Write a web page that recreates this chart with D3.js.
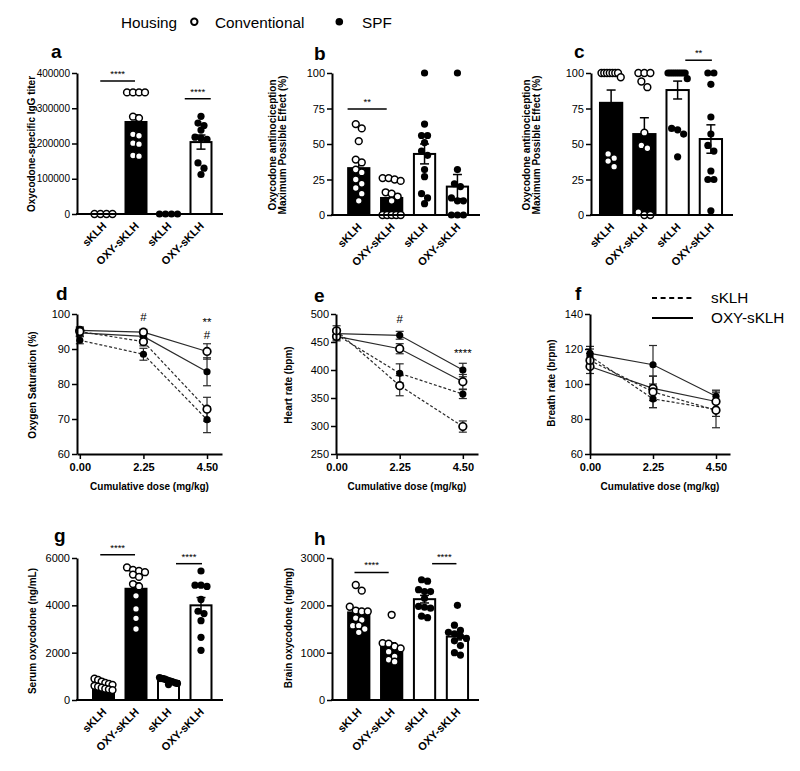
<!DOCTYPE html>
<html><head><meta charset="utf-8">
<script src="https://cdn.jsdelivr.net/npm/d3@7"></script>
<style>
body{margin:0;background:#fff;}
text{font-family:Arial,"Liberation Sans",sans-serif;fill:#000;}
</style></head><body>
<svg id="fig" width="800" height="771"></svg>
<script>
// ---------- DATA ----------
const categories = ["sKLH","OXY-sKLH","sKLH","OXY-sKLH"];
const housing = ["Conventional","Conventional","SPF","SPF"];

// a: Oxycodone-specific IgG titer
const aMeans = [0, 261000, 0, 204000];
const aSEM = [0, 20000, 0, 20000];
const aPoints = [
  [0,0,0,0],
  [345000,345000,345000,345000,276000,272000,226000,222000,201000,198000,166000,164000],
  [0,0,0,0],
  [277000,258000,251000,238000,218000,215000,212000,145000,130000,112000]
];
// b: antinociception MPE (%)
const bMeans = [33, 12, 43, 20];
const bSEM = [5.5, 3, 7, 8.5];
const bPoints = [
  [64,61,52,39,37,32,30,25,22,19,15,10],
  [26,26,25,24,16,15,13,10,0,0,0,0,0],
  [100,64,56,56,51,45,42,32,27,15,12,8],
  [100,32,22,20,12,10,10,0,0,0]
];
// c: antinociception MPE (%)
const cMeans = [79, 57, 88, 53.5];
const cSEM = [9, 11.5, 6.3, 10];
const cPoints = [
  [100,100,100,100,100,100,100,97,43,40,38,34],
  [100,100,100,94,90,58,49,47,2,0,0],
  [100,100,100,100,100,100,100,100,100,96,61,60,57,41],
  [100,100,92,69,57,49,45,31,25,25,3]
];
// g: serum oxycodone (ng/mL)
const gMeans = [600, 4700, 800, 4000];
const gSEM = [50, 250, 30, 330];
const gPoints = [
  [900,850,780,720,680,640,600,560,520,480,450,420],
  [5600,5500,5450,5400,5300,5200,4900,4800,4400,3850,3450,3000],
  [950,920,900,880,850,820,800,780,750,720,700,650],
  [5450,4850,4850,4800,4250,3750,3650,3350,2650,2100]
];
// h: brain oxycodone (ng/mg)
const hMeans = [1850, 1120, 2130, 1340];
const hSEM = [80, 90, 80, 70];
const hPoints = [
  [2430,2310,1970,1890,1870,1870,1730,1690,1570,1570,1500,1430],
  [1800,1200,1190,1130,1090,1020,920,850,810],
  [2540,2510,2330,2290,2290,2150,1980,1960,1940,1770,1740],
  [2000,1580,1470,1430,1400,1350,1300,1250,1150,1000,950]
];

// line panels
const doses = [0, 2.25, 4.5];
const doseTicks = [0, 2.25, 4.5];
const lineHousing = ["SPF","Conventional","SPF","Conventional"];
const lineVaccine = ["OXY-sKLH","OXY-sKLH","sKLH","sKLH"];
// d: oxygen saturation (%)
const dMeans = [[94.6,93.6,83.5],[95.3,94.8,89.3],[92.5,88.5,69.8],[95.0,92.1,72.8]];
const dSEM   = [[1.0,1.0,4.0],[1.0,0.8,2.2],[1.0,1.7,3.7],[1.2,1.2,3.4]];
// e: heart rate (bpm)
const eMeans = [[465,462,400],[460,438,379],[463,394,357],[470,372,299]];
const eSEM   = [[8,7,12],[8,9,13],[9,17,8],[9,18,10]];
// f: breath rate (brpm)
const fMeans = [[117.5,111,93],[110,97.5,90],[116,91.5,85.5],[113.5,95.5,85]];
const fSEM   = [[4,11,3.5],[4,7,6],[4,5,4],[4,9,10]];

// tick values
const aTicks = [0,100000,200000,300000,400000];
const bcTicks = [0,25,50,75,100];
const gTicks = [0,2000,4000,6000];
const hTicks = [0,1000,2000,3000];
const dTicks = [60,70,80,90,100];
const eTicks = [250,300,350,400,450,500];
const fTicks = [60,80,100,120,140];

// significance brackets (category-space positions, data-space height)
const aSig = [{from:-0.1,to:0.97,y:377000,t:"****"},{from:2.5,to:3.3,y:327000,t:"****"}];
const bSig = [{from:-0.34,to:0.85,y:74.6,t:"**"}];
const cSig = [{from:2.23,to:3.03,y:109,t:"**"}];
const gSig = [{from:-0.1,to:0.97,y:6140,t:"****"},{from:2.23,to:3.03,y:5760,t:"****"}];
const hSig = [{from:-0.13,to:0.91,y:2695,t:"****"},{from:2.23,to:2.97,y:2880,t:"****"}];
const dAnn = [{x:2.25,y:98,t:"#"},{x:4.5,y:96.6,t:"**"},{x:4.5,y:92.9,t:"#"}];
const eAnn = [{x:2.25,y:483.5,t:"#"},{x:4.5,y:423,t:"****"}];

// ---------- DRAWING ----------
const svg = d3.select("#fig");

function styleYAxis(ax, fs){
  ax.select(".domain").attr("stroke","#000").attr("stroke-width",2);
  ax.selectAll(".tick line").attr("stroke","#000").attr("stroke-width",1.5);
  ax.selectAll(".tick text").attr("font-size",fs).attr("font-family","Arial, 'Liberation Sans', sans-serif").attr("fill","#000");
}

function swarm(vals, y, sep, maxW){
  const idx = vals.map((v,i)=>i).sort((a,b)=>vals[b]-vals[a]);
  const off = new Array(vals.length).fill(0);
  const rows = []; let cur = null;
  idx.forEach(i=>{
    const py = y(vals[i]);
    if (cur && Math.abs(py-cur.y0) < 6.5) cur.items.push(i);
    else { cur = {y0:py, items:[i]}; rows.push(cur); }
  });
  rows.forEach(r=>{
    const n = r.items.length;
    const s = n>1 ? Math.min(sep, maxW/(n-1)) : 0;
    r.items.forEach((i,k)=>{ off[i] = (k-(n-1)/2)*s; });
  });
  return off;
}

function panelLabel(t, x, y){
  svg.append("text").attr("x",x).attr("y",y).attr("font-size",19).attr("font-weight","bold").text(t);
}

function yTitle(lines, xs, cy, fs){
  lines.forEach((ln,i)=>{
    svg.append("text").attr("transform",`translate(${xs[i]},${cy}) rotate(-90)`)
      .attr("text-anchor","middle").attr("dy","0.35em").attr("font-size",fs).attr("font-weight","bold").text(ln);
  });
}

function drawBarPanel(L, D){
  const g = svg.append("g");
  const y = d3.scaleLinear().domain(D.domain).range([L.yBot, L.yTop]);
  const x = d3.scaleBand().domain(d3.range(categories.length)).range(L.band).padding(L.pad);
  const bw = x.bandwidth();
  const cx = i => x(i) + bw/2;

  g.selectAll("rect.bar").data(D.means).join("rect").attr("class","bar")
    .attr("x",(d,i)=>x(i)).attr("width",bw)
    .attr("y",d=>y(d)).attr("height",d=>L.yBot-y(d))
    .attr("fill",(d,i)=>housing[i]==="Conventional"?"#000":"#fff")
    .attr("stroke","#000").attr("stroke-width",2);

  D.means.forEach((m,i)=>{
    const s = D.sem[i]; if(!s) return;
    const eg = g.append("g").attr("stroke","#000").attr("stroke-width",1.5);
    eg.append("line").attr("x1",cx(i)).attr("x2",cx(i)).attr("y1",y(m-s)).attr("y2",y(m+s));
    [m-s,m+s].forEach(v=>eg.append("line").attr("x1",cx(i)-4.5).attr("x2",cx(i)+4.5).attr("y1",y(v)).attr("y2",y(v)));
  });

  D.points.forEach((vals,i)=>{
    const off = swarm(vals, y, 6, bw-3);
    const conv = housing[i]==="Conventional";
    g.append("g").selectAll("circle").data(vals).join("circle")
      .attr("cx",(v,k)=>cx(i)+off[k]).attr("cy",v=>y(v))
      .attr("r",conv?3.4:3.6)
      .attr("fill",conv?"#fff":"#000")
      .attr("stroke",conv?"#000":"none").attr("stroke-width",1.5);
  });

  const ax = g.append("g").attr("transform",`translate(${L.x0},0)`)
    .call(d3.axisLeft(y).tickValues(D.ticks).tickFormat(d3.format("d")).tickSize(5).tickSizeOuter(0).tickPadding(2));
  styleYAxis(ax, L.tfs);
  g.append("line").attr("x1",L.x0-1).attr("x2",L.x1).attr("y1",L.yBot).attr("y2",L.yBot).attr("stroke","#000").attr("stroke-width",2);

  g.selectAll("text.xl").data(categories).join("text").attr("class","xl")
    .attr("transform",(d,i)=>`translate(${cx(i)+1},${L.yBot+10}) rotate(-45)`)
    .attr("text-anchor","end").attr("dy","0.35em").attr("font-size",11).attr("font-weight","bold").text(d=>d);

  const step = x.step();
  D.sig.forEach(s=>{
    const x1 = cx(0)+s.from*step, x2 = cx(0)+s.to*step;
    g.append("line").attr("x1",x1).attr("x2",x2).attr("y1",y(s.y)).attr("y2",y(s.y)).attr("stroke","#000").attr("stroke-width",1.5);
    g.append("text").attr("x",(x1+x2)/2).attr("y",y(s.y)-4).attr("text-anchor","middle").attr("font-size",9.5).text(s.t);
  });

  panelLabel(L.label, L.lx, L.ly);
  yTitle(L.title, L.titleX, L.titleY, 10);
}

function drawLinePanel(L, D){
  const g = svg.append("g");
  const x = d3.scaleLinear().domain(L.xDomain).range([L.x0, L.x1]);
  const y = d3.scaleLinear().domain(D.domain).range([L.yBot, L.yTop]);
  const col = "#2a2a2a";
  const line = d3.line().x((d,i)=>x(doses[i])).y(d=>y(d));
  D.means.forEach((ser,si)=>{
    g.append("path").datum(ser).attr("d",line).attr("fill","none").attr("stroke",col)
      .attr("stroke-width",1.2).attr("stroke-dasharray",lineVaccine[si]==="sKLH"?"3,2":null);
  });
  D.means.forEach((ser,si)=>{
    ser.forEach((m,k)=>{
      const s = D.sem[si][k], px = x(doses[k]);
      const eg = g.append("g").attr("stroke",col).attr("stroke-width",1.2);
      eg.append("line").attr("x1",px).attr("x2",px).attr("y1",y(m-s)).attr("y2",y(m+s));
      [m-s,m+s].forEach(v=>eg.append("line").attr("x1",px-4).attr("x2",px+4).attr("y1",y(v)).attr("y2",y(v)));
    });
  });
  const order = d3.range(D.means.length).sort((a,b)=>(lineHousing[a]==="SPF"?0:1)-(lineHousing[b]==="SPF"?0:1));
  order.forEach(si=>{
    const conv = lineHousing[si]==="Conventional";
    g.append("g").selectAll("circle").data(D.means[si]).join("circle")
      .attr("cx",(d,k)=>x(doses[k])).attr("cy",d=>y(d))
      .attr("r",conv?3.8:3.6).attr("fill",conv?"#fff":"#000")
      .attr("stroke",conv?"#000":"none").attr("stroke-width",1.7);
  });

  const ax = g.append("g").attr("transform",`translate(${L.x0},0)`)
    .call(d3.axisLeft(y).tickValues(D.ticks).tickFormat(d3.format("d")).tickSize(5).tickSizeOuter(0).tickPadding(2));
  styleYAxis(ax, 11);
  const bx = g.append("g").attr("transform",`translate(0,${L.yBot})`)
    .call(d3.axisBottom(x).tickValues(doseTicks).tickFormat(d3.format(".2f")).tickSize(5).tickSizeOuter(0).tickPadding(4));
  bx.select(".domain").attr("stroke","#000").attr("stroke-width",2);
  bx.selectAll(".tick line").attr("stroke","#000").attr("stroke-width",1.5);
  bx.selectAll(".tick text").attr("font-size",11).attr("font-weight","bold").attr("font-family","Arial, 'Liberation Sans', sans-serif").attr("fill","#000");

  g.append("text").attr("x",(L.x0+L.x1)/2).attr("y",L.yBot+36).attr("text-anchor","middle")
    .attr("font-size",10).attr("font-weight","bold").text("Cumulative dose (mg/kg)");

  D.ann.forEach(a=>{
    g.append("text").attr("x",x(a.x)).attr("y",y(a.y)).attr("text-anchor","middle").attr("font-size",11.5).text(a.t);
  });

  panelLabel(L.label, L.lx, L.ly);
  yTitle([L.title], [L.titleX], L.titleY, 10);
}

// ---------- LAYOUT ----------
drawBarPanel({x0:77,x1:223,yTop:73,yBot:214,band:[81.5,223],pad:0.354,tfs:10,label:"a",lx:51,ly:58,
  title:["Oxycodone-specific IgG titer"],titleX:[31],titleY:144},
  {domain:[0,400000],ticks:aTicks,means:aMeans,sem:aSEM,points:aPoints,sig:aSig});
drawBarPanel({x0:332,x1:480,yTop:73,yBot:215,band:[336.5,479.7],pad:0.354,tfs:11,label:"b",lx:314,ly:60,
  title:["Oxycodone antinociception","Maximum Possible Effect (%)"],titleX:[272,282.5],titleY:145},
  {domain:[0,100],ticks:bcTicks,means:bMeans,sem:bSEM,points:bPoints,sig:bSig});
drawBarPanel({x0:591,x1:733,yTop:73,yBot:215,band:[589,733],pad:0.33,tfs:11,label:"c",lx:574,ly:58,
  title:["Oxycodone antinociception","Maximum Possible Effect (%)"],titleX:[526,536.5],titleY:145},
  {domain:[0,100],ticks:bcTicks,means:cMeans,sem:cSEM,points:cPoints,sig:cSig});
drawBarPanel({x0:77,x1:223,yTop:558,yBot:700,band:[81.5,223],pad:0.354,tfs:11,label:"g",lx:54,ly:542,
  title:["Serum oxycodone (ng/mL)"],titleX:[32],titleY:631},
  {domain:[0,6000],ticks:gTicks,means:gMeans,sem:gSEM,points:gPoints,sig:gSig});
drawBarPanel({x0:332,x1:479,yTop:558,yBot:700,band:[336.5,479.7],pad:0.354,tfs:11,label:"h",lx:314,ly:545,
  title:["Brain oxycodone (ng/mg)"],titleX:[288],titleY:628},
  {domain:[0,3000],ticks:hTicks,means:hMeans,sem:hSEM,points:hPoints,sig:hSig});

drawLinePanel({x0:77,x1:222,yTop:314,yBot:454,xDomain:[-0.1,5.03],label:"d",lx:56,ly:300,
  title:"Oxygen Saturation (%)",titleX:32,titleY:385},
  {domain:[60,100],ticks:dTicks,means:dMeans,sem:dSEM,ann:dAnn});
drawLinePanel({x0:336,x1:478,yTop:314,yBot:454,xDomain:[-0.02,5.04],label:"e",lx:314,ly:302,
  title:"Heart rate (bpm)",titleX:288,titleY:385},
  {domain:[250,500],ticks:eTicks,means:eMeans,sem:eSEM,ann:eAnn});
drawLinePanel({x0:590,x1:730,yTop:314,yBot:454,xDomain:[0,5.0],label:"f",lx:575,ly:300,
  title:"Breath rate (brpm)",titleX:551,titleY:383},
  {domain:[60,140],ticks:fTicks,means:fMeans,sem:fSEM,ann:[]});

// ---------- LEGENDS ----------
const legH = svg.append("g");
legH.append("text").attr("x",121).attr("y",27.5).attr("font-size",15.3).text("Housing");
legH.append("circle").attr("cx",194.3).attr("cy",21.7).attr("r",3.2).attr("fill","#fff").attr("stroke","#000").attr("stroke-width",2);
legH.append("text").attr("x",215).attr("y",27.5).attr("font-size",15.3).text("Conventional");
legH.append("circle").attr("cx",339.3).attr("cy",21.7).attr("r",3.8).attr("fill","#000");
legH.append("text").attr("x",362).attr("y",27.5).attr("font-size",15.3).text("SPF");

const vacLegend = ["sKLH","OXY-sKLH"];
const legV = svg.append("g");
vacLegend.forEach((v,i)=>{
  const yy = 298 + i*20;
  legV.append("line").attr("x1",652).attr("x2",693).attr("y1",yy).attr("y2",yy).attr("stroke","#000")
    .attr("stroke-width",1.8).attr("stroke-dasharray",v==="sKLH"?"5,3.6":null);
  legV.append("text").attr("x",711).attr("y",yy).attr("dy","0.35em").attr("font-size",15.3).text(v);
});
</script>
</body></html>
